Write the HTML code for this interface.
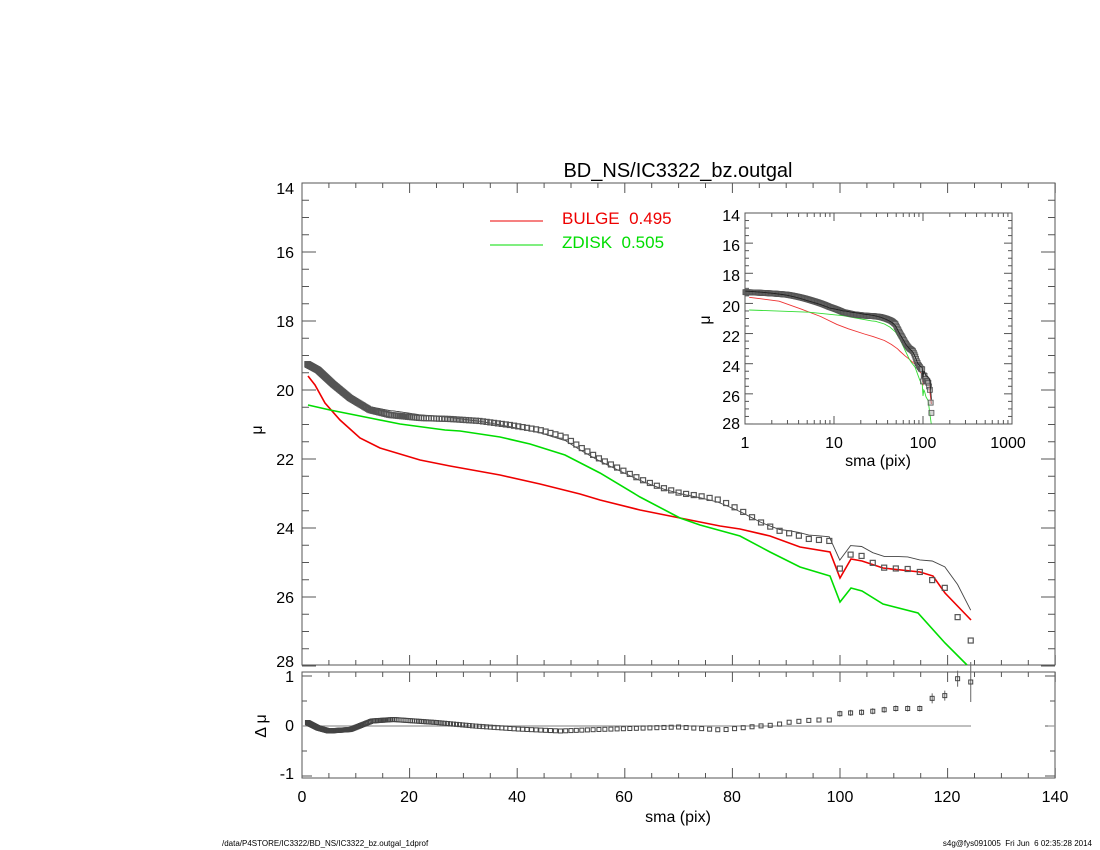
<!DOCTYPE html>
<html><head><meta charset="utf-8">
<style>
html,body{margin:0;padding:0;background:#fff;}
svg{display:block;font-family:"Liberation Sans",Arial,sans-serif;}
text{white-space:pre;}
</style></head>
<body>
<svg id="s" width="1100" height="850" xmlns="http://www.w3.org/2000/svg">
<rect width="1100" height="850" fill="#fff"/>
<text x="678" y="177" font-size="20" text-anchor="middle" fill="#000">BD_NS/IC3322_bz.outgal</text>
<g font-size="16" fill="#000" text-anchor="end">
<text x="294" y="194">14</text><text x="294" y="258">16</text><text x="294" y="327">18</text>
<text x="294" y="396">20</text><text x="294" y="465">22</text><text x="294" y="534">24</text>
<text x="294" y="603">26</text><text x="294" y="667">28</text>
<text x="294" y="682">1</text><text x="294" y="731">0</text><text x="294" y="779">-1</text>
</g>
<text x="262" y="430" font-size="16" transform="rotate(-90 262 430)" text-anchor="middle">μ</text>
<text x="266" y="726" font-size="16" transform="rotate(-90 266 726)" text-anchor="middle">Δ μ</text>
<g font-size="16" text-anchor="middle">
<text x="302" y="802">0</text><text x="409" y="802">20</text><text x="517" y="802">40</text>
<text x="624" y="802">60</text><text x="732" y="802">80</text><text x="840" y="802">100</text>
<text x="947" y="802">120</text><text x="1055" y="802">140</text>
<text x="678" y="822">sma (pix)</text>
</g>
<text x="222" y="846" font-size="8">/data/P4STORE/IC3322/BD_NS/IC3322_bz.outgal_1dprof</text>
<text x="1092" y="846" font-size="8" text-anchor="end">s4g@fys091005  Fri Jun  6 02:35:28 2014</text>
<line x1="490" y1="221" x2="543" y2="221" stroke="#e00" stroke-width="1"/>
<line x1="490" y1="245" x2="543" y2="245" stroke="#0d0" stroke-width="1"/>
<text x="562" y="224" font-size="17" fill="#e00">BULGE  0.495</text>
<text x="562" y="248" font-size="17" fill="#0d0">ZDISK  0.505</text>
<g font-size="16" text-anchor="end">
<text x="740" y="221">14</text><text x="740" y="251">16</text><text x="740" y="281">18</text>
<text x="740" y="312">20</text><text x="740" y="342">22</text><text x="740" y="372">24</text>
<text x="740" y="402">26</text><text x="740" y="429">28</text>
</g>
<text x="710" y="320" font-size="16" transform="rotate(-90 710 320)" text-anchor="middle">μ</text>
<g font-size="16" text-anchor="middle">
<text x="745" y="448">1</text><text x="834" y="448">10</text><text x="923" y="448">100</text><text x="1008" y="448">1000</text>
<text x="878" y="466">sma (pix)</text>
</g>
<g id="g"></g>
</svg>
<script>
var NS="http://www.w3.org/2000/svg",G=document.getElementById('g');
function el(t,a){var e=document.createElementNS(NS,t);for(var k in a)e.setAttribute(k,a[k]);G.appendChild(e);return e;}
function interp(P,x){if(x<=P[0][0])return P[0][1];for(var i=1;i<P.length;i++){if(x<=P[i][0]){var a=P[i-1],b=P[i];return a[1]+(b[1]-a[1])*(x-a[0])/(b[0]-a[0]);}}return P[P.length-1][1];}
var X=function(r){return 302+r*5.38;};
var data=[[307,364],[318,370],[333,384],[350,398],[370,410],[390,415],[420,418],[450,419],[480,421],[510,425],[540,430],[565,437],[580,447],[600,459],[620,469],[640,479],[660,487],[680,493],[700,496],[720,500],[740,510],[760,522],[780,531],[800,536],[809,539],[830,541],[838,541],[840,571],[851,554],[862,556],[873,563],[885,568],[908,569],[920,572],[932,580],[945,588],[958,618],[971,641]];
var red=[[308,376],[315,385],[325,403],[340,420],[360,438],[380,448],[420,460],[450,466],[500,475],[540,484],[580,494],[600,500],[640,510],[680,518],[720,526],[740,529],[770,536],[800,547],[830,552],[840,578],[851,559],[862,561],[883,568],[920,572],[933,576],[945,593],[971,620]];
var grn=[[308,405],[330,410],[370,418],[400,424],[445,430],[460,431],[500,437],[530,444],[565,455],[600,473],[640,497],[680,518],[700,525],[740,536],[770,552],[800,567],[830,576],[840,602],[851,588],[862,591],[883,604],[918,613],[945,643],[967,665]];
var del=[[1,0.07],[3,-0.04],[5,-0.1],[9,-0.07],[13,0.1],[17,0.13],[25,0.07],[32,0],[40,-0.06],[48,-0.1],[55,-0.07],[70,-0.02],[78,-0.08],[85,0],[88,0.02],[90,0.07],[95,0.12],[99,0.12],[100,0.25],[105,0.28],[110,0.35],[115,0.35],[117,0.55],[120,0.62],[122,0.97],[124.3,0.88]];
var rs=[];for(var i=0;i<=243;i++)rs.push(124.3/Math.pow(1.02,243-i));
var mdl=[];rs.forEach(function(r){var x=X(r);mdl.push([x,interp(data,x)-interp(del,r)*34.5]);});
function pl(P,c,w,tf){el('polyline',{points:P.map(function(p){var q=tf?tf(p):p;return q[0].toFixed(1)+','+q[1].toFixed(1);}).join(' '),fill:'none',stroke:c,'stroke-width':w});}
function frame(x1,y1,x2,y2){el('rect',{x:x1,y:y1,width:x2-x1,height:y2-y1,fill:'none',stroke:'#555','stroke-width':1});}
frame(302,183,1055,665);frame(302,672,1055,778);frame(745,213,1012,424);
for(var v=0;v<=140;v+=5){var x=X(v),L=(v%20==0)?10:5;
 el('line',{x1:x,y1:183,x2:x,y2:183+L,stroke:'#555'});el('line',{x1:x,y1:665,x2:x,y2:665-L,stroke:'#555'});
 el('line',{x1:x,y1:672,x2:x,y2:672+L,stroke:'#555'});el('line',{x1:x,y1:778,x2:x,y2:778-L,stroke:'#555'});}
for(var m=14;m<=28;m+=0.5){var y=183+(m-14)*34.5,L=(m%2==0)?14:7;
 el('line',{x1:302,y1:y,x2:302+L,y2:y,stroke:'#555'});el('line',{x1:1055,y1:y,x2:1055-L,y2:y,stroke:'#555'});}
[-1,-0.5,0,0.5,1].forEach(function(d){var y=726-d*50,L=(d%1==0)?10:5;el('line',{x1:302,y1:y,x2:302+L,y2:y,stroke:'#555'});el('line',{x1:1055,y1:y,x2:1055-L,y2:y,stroke:'#555'});});
var IX=function(r){return 745+89*Math.log10(r);},IY=function(m){return 213+(m-14)*15.07;};
for(var d=0;d<3;d++)for(var k=1;k<=10;k++){var x=IX(k*Math.pow(10,d)),L=(k==1||k==10)?8:4;
 el('line',{x1:x,y1:213,x2:x,y2:213+L,stroke:'#555'});el('line',{x1:x,y1:424,x2:x,y2:424-L,stroke:'#555'});}
for(var m=14;m<=28;m+=0.5){var y=IY(m),L=(m%2==0)?8:4;el('line',{x1:745,y1:y,x2:745+L,y2:y,stroke:'#555'});el('line',{x1:1012,y1:y,x2:1012-L,y2:y,stroke:'#555'});}
pl(red,'#e00',1.6);pl(grn,'#0d0',1.6);pl(mdl,'#444',0.9);
rs.forEach(function(r){var x=X(r),y=interp(data,x);el('rect',{x:x-2.5,y:y-2.5,width:5,height:5,fill:'none',stroke:'#555','stroke-width':1.2});});
el('line',{x1:302,y1:726,x2:971,y2:726,stroke:'#999','stroke-width':1.2});
el('line',{x1:1048,y1:726,x2:1055,y2:726,stroke:'#999','stroke-width':1.2});
rs.forEach(function(r){var x=X(r),y=726-interp(del,r)*50;
 if(r>99){var e=r>123?20:(r>121?8:(r>115?5:3));el('line',{x1:x,y1:y-e,x2:x,y2:y+e,stroke:'#666'});}
 el('rect',{x:x-2,y:y-2,width:4,height:4,fill:'none',stroke:'#444','stroke-width':1});});
function toI(p){var r=(p[0]-302)/5.38;if(r<1)r=1;return [IX(r),IY(14+(p[1]-183)/34.5)];}
pl(red,'#e33',0.9,toI);pl(grn,'#3d3',0.9,toI);
rs.forEach(function(r){var x=X(r),y=interp(data,x);var q=toI([x,y]);el('rect',{x:q[0]-2.5,y:q[1]-2.5,width:5,height:5,fill:'#aaa','fill-opacity':0.5,stroke:'#555','stroke-width':0.8});});
pl(mdl,'#222',0.9,toI);
</script>
</body></html>
